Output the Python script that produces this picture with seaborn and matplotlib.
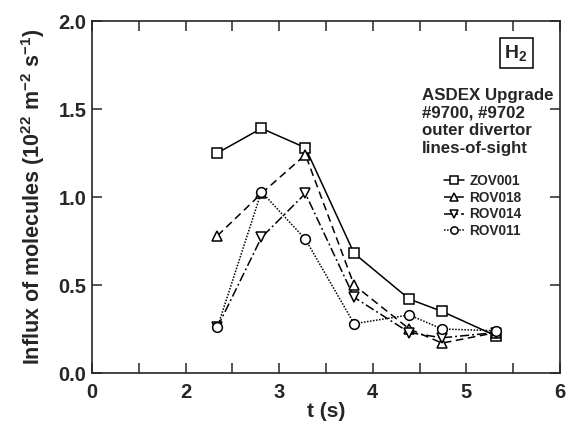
import matplotlib
matplotlib.use("Agg")
import matplotlib.pyplot as plt
import seaborn as sns
from matplotlib import font_manager

# time points (axis is drawn from 1 to 6, first tick labelled "0")
t = [2.34, 2.81, 3.28, 3.80, 4.39, 4.74, 5.32]
zov001 = [1.25, 1.39, 1.28, 0.68, 0.42, 0.35, 0.21]
rov018 = [0.78, 1.02, 1.24, 0.50, 0.25, 0.17, 0.23]
rov014 = [0.26, 0.77, 1.02, 0.43, 0.23, 0.20, 0.23]
rov011 = [0.26, 1.03, 0.76, 0.28, 0.33, 0.25, 0.24]

series = [
    ("ZOV001", zov001, "s", "-"),
    ("ROV018", rov018, "^", (0, (5, 3))),
    ("ROV014", rov014, "v", (0, (6, 2, 1.2, 2))),
    ("ROV011", rov011, "o", (0, (1, 1.0))),
]

x_ticks = [1, 2, 3, 4, 5, 6]
x_tick_labels = ["0", "2", "3", "4", "5", "6"]
y_ticks = [0.0, 0.5, 1.0, 1.5, 2.0]

sns.set_style("ticks")
names = {f.name for f in font_manager.fontManager.ttflist}
fam = "Liberation Sans Narrow" if "Liberation Sans Narrow" in names else "Liberation Sans"
plt.rcParams["font.family"] = [fam, "DejaVu Sans"]
plt.rcParams["font.weight"] = "bold"
plt.rcParams["mathtext.fontset"] = "custom"
plt.rcParams["mathtext.rm"] = fam + ":bold"
plt.rcParams["mathtext.default"] = "rm"

fig = plt.figure(figsize=(5.69, 4.26), dpi=100)
ax = fig.add_axes([0.1617, 0.1244, 0.8225, 0.8263])

for name, vals, mk, ls in series:
    sns.lineplot(x=t, y=vals, ax=ax, color="black", marker=mk, linestyle=ls,
                 lw=1.1, ms=7, mfc="white", mec="black", mew=1.1, label=name)

ax.set_xlim(1, 6)
ax.set_ylim(0, 2.0)
ax.set_xticks(x_ticks)
ax.set_xticklabels(x_tick_labels)
ax.set_xticks([1.5, 2.5, 3.5, 4.5, 5.5], minor=True)
ax.set_yticks(y_ticks)
ax.set_yticklabels([f"{v:.1f}" for v in y_ticks])
ax.tick_params(which="both", direction="in", top=True, right=True,
               length=7, width=1.1, labelsize=14.5)
ax.tick_params(axis="x", pad=7)
ax.tick_params(axis="y", pad=4)
for s in ax.spines.values():
    s.set_linewidth(1.2)
    s.set_visible(True)

ax.set_xlabel("t (s)", fontsize=15, fontweight="bold", labelpad=0)
ax.set_ylabel(r"Influx of molecules (10$^{22}$ m$^{-2}$ s$^{-1}$)",
              fontsize=15.5, fontweight="bold", labelpad=8)

ax.text(0.906, 0.909, r"H$_2$", transform=ax.transAxes, ha="center", va="center",
        fontsize=14, fontweight="bold",
        bbox=dict(boxstyle="square,pad=0.25", fc="white", ec="black", lw=1.1))
ax.text(0.705, 0.81, "ASDEX Upgrade\n#9700, #9702\nouter divertor\nlines-of-sight",
        transform=ax.transAxes, ha="left", va="top", fontsize=12.2,
        fontweight="bold", linespacing=1.22)

leg = ax.legend(loc="upper left", bbox_to_anchor=(0.737, 0.585), frameon=False,
                fontsize=9.8, handlelength=1.5, handletextpad=0.4,
                labelspacing=0.2, borderpad=0, markerscale=0.75)
for txt in leg.get_texts():
    txt.set_fontweight("bold")

fig.savefig("out.png", dpi=100)
